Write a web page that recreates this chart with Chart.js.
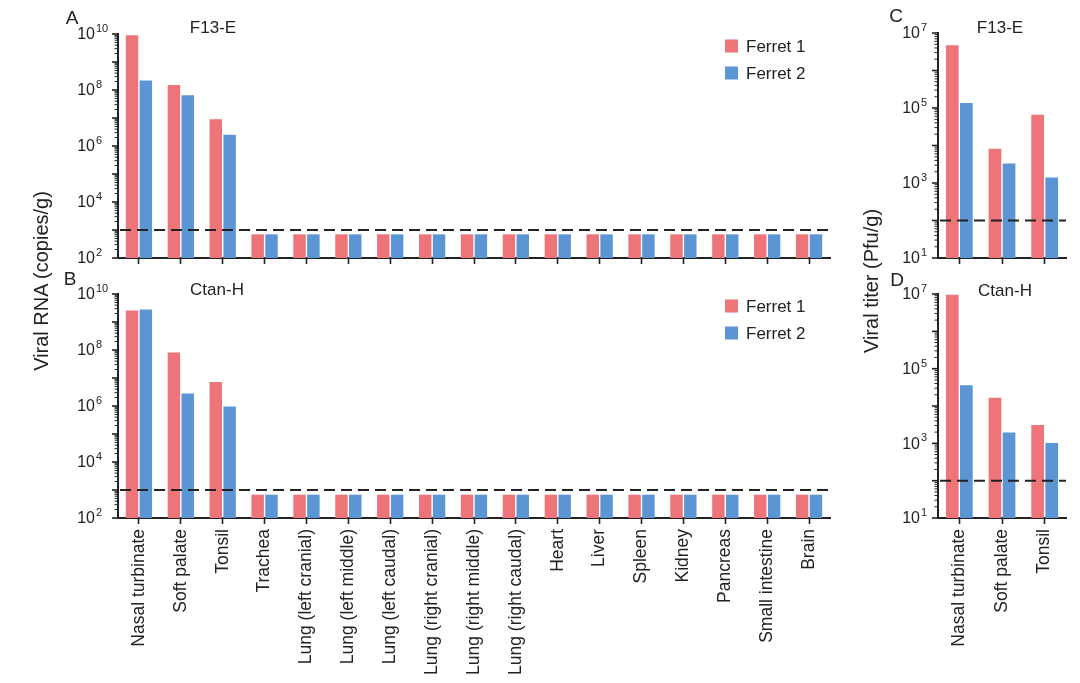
<!DOCTYPE html>
<html>
<head>
<meta charset="utf-8">
<script src="https://cdn.jsdelivr.net/npm/chart.js@4.4.1/dist/chart.umd.min.js"></script>
<style>
  body { margin: 0; background: #fff; }
  #wrap { position: relative; width: 1080px; height: 683px; overflow: hidden; font-family: "Liberation Sans", Arial, sans-serif; color: #222; }
  canvas { position: absolute; }
  .txt { position: absolute; transform: translate(-50%, -50%); white-space: nowrap; }
  .rot { position: absolute; transform: translate(-50%, -50%) rotate(-90deg); white-space: nowrap; font-size: 20px; }
</style>
</head>
<body>
<div id="wrap">
  <canvas id="chartA" width="850" height="270" style="left:0;top:0"></canvas>
  <canvas id="chartB" width="850" height="423" style="left:0;top:260px"></canvas>
  <canvas id="chartC" width="230" height="270" style="left:850px;top:0"></canvas>
  <canvas id="chartD" width="230" height="423" style="left:850px;top:260px"></canvas>

  <div class="txt" style="left:72px;top:18px;font-size:19px">A</div>
  <div class="txt" style="left:70px;top:279px;font-size:19px">B</div>
  <div class="txt" style="left:896px;top:16px;font-size:19px">C</div>
  <div class="txt" style="left:897px;top:280px;font-size:19px">D</div>

  <div class="txt" style="left:213px;top:28px;font-size:17px">F13-E</div>
  <div class="txt" style="left:217px;top:290px;font-size:17px">Ctan-H</div>
  <div class="txt" style="left:1000px;top:28px;font-size:17px">F13-E</div>
  <div class="txt" style="left:1005px;top:291px;font-size:17px">Ctan-H</div>

  <div class="rot" style="left:41px;top:281px">Viral RNA (copies/g)</div>
  <div class="rot" style="left:871px;top:281px">Viral titer (Pfu/g)</div>
</div>

<script>
// categories
var organs = ["Nasal turbinate", "Soft palate", "Tonsil", "Trachea",
  "Lung (left cranial)", "Lung (left middle)", "Lung (left caudal)",
  "Lung (right cranial)", "Lung (right middle)", "Lung (right caudal)",
  "Heart", "Liver", "Spleen", "Kidney", "Pancreas", "Small intestine", "Brain"];
var upperTract = ["Nasal turbinate", "Soft palate", "Tonsil"];
var ferrets = ["Ferret 1", "Ferret 2"];

// viral RNA, copies/g
var rnaF13Ferret1 = [9e9, 1.5e8, 9e6, 700, 700, 700, 700, 700, 700, 700, 700, 700, 700, 700, 700, 700, 700];
var rnaF13Ferret2 = [2.2e8, 6.5e7, 2.5e6, 700, 700, 700, 700, 700, 700, 700, 700, 700, 700, 700, 700, 700, 700];
var rnaCtanFerret1 = [2.6e9, 8.2e7, 7.2e6, 680, 680, 680, 680, 680, 680, 680, 680, 680, 680, 680, 680, 680, 680];
var rnaCtanFerret2 = [2.8e9, 2.8e6, 9.5e5, 680, 680, 680, 680, 680, 680, 680, 680, 680, 680, 680, 680, 680, 680];

// viral titer, Pfu/g
var titerF13Ferret1 = [4.7e6, 8.2e3, 6.6e4];
var titerF13Ferret2 = [1.35e5, 3.3e3, 1.4e3];
var titerCtanFerret1 = [9.5e6, 1.67e4, 3.1e3];
var titerCtanFerret2 = [3.6e4, 1.96e3, 1.02e3];

// detection limits and axis ranges
var rnaLimit = 1000;
var titerLimit = 100;
var rnaRange = [1e2, 1e10];
var titerRange = [1e1, 1e7];

var red = "#ED7479";
var blue = "#5B95D3";
var ink = "#222";
var fontFamily = '"Liberation Sans", Arial, sans-serif';

Chart.defaults.font.family = fontFamily;
Chart.defaults.color = ink;

// dashed limit line, log ticks with superscript labels, legend
var decor = {
  id: 'decor',
  afterDatasetsDraw: function(chart, args, opts) {
    var ctx = chart.ctx, a = chart.chartArea, y = chart.scales.y;
    ctx.save();
    var ly = y.getPixelForValue(opts.limit);
    ctx.strokeStyle = ink;
    ctx.lineWidth = 2;
    ctx.setLineDash([11, 6]);
    ctx.beginPath();
    ctx.moveTo(a.left + 2, ly);
    ctx.lineTo(a.right, ly);
    ctx.stroke();
    ctx.setLineDash([]);

    var minExp = Math.round(Math.log10(y.min));
    y.ticks.forEach(function(t) {
      var e = Math.log10(t.value);
      var major = Math.abs(e - Math.round(e)) < 1e-6;
      var p = y.getPixelForValue(t.value);
      ctx.lineWidth = major ? 1.6 : 1;
      ctx.beginPath();
      ctx.moveTo(a.left - (major ? 6 : 3.5), p);
      ctx.lineTo(a.left, p);
      ctx.stroke();
      if (major && (Math.round(e) - minExp) % 2 === 0) {
        var x = a.left - opts.gap;
        ctx.fillStyle = ink;
        ctx.textBaseline = 'middle';
        ctx.textAlign = 'right';
        ctx.font = '16px ' + fontFamily;
        ctx.fillText('10', x, p + 1);
        ctx.textAlign = 'left';
        ctx.font = '11px ' + fontFamily;
        ctx.fillText(String(Math.round(e)), x + 1, p - 5);
      }
    });

    if (opts.legend) {
      chart.data.datasets.forEach(function(ds, i) {
        var cy = a.top + 12 + i * 27;
        var bx = a.right - 105;
        ctx.fillStyle = ds.backgroundColor;
        ctx.fillRect(bx, cy - 6.5, 13, 13);
        ctx.fillStyle = ink;
        ctx.font = '17px ' + fontFamily;
        ctx.textAlign = 'left';
        ctx.textBaseline = 'middle';
        ctx.fillText(ds.label, bx + 21, cy + 1);
      });
    }
    ctx.restore();
  }
};

function logTicks(scale) {
  var ticks = [];
  var lo = Math.round(Math.log10(scale.min)), hi = Math.round(Math.log10(scale.max));
  for (var e = lo; e <= hi; e++) {
    for (var m = 1; m <= 9; m++) {
      var v = m * Math.pow(10, e);
      if (v <= scale.max * 1.0001) ticks.push({ value: v });
    }
  }
  scale.ticks = ticks;
}

function makeChart(id, labels, f1, f2, range, limit, opt) {
  var ctx = document.getElementById(id).getContext('2d');
  return new Chart(ctx, {
    type: 'bar',
    data: {
      labels: labels,
      datasets: [
        { label: ferrets[0], data: f1, backgroundColor: red },
        { label: ferrets[1], data: f2, backgroundColor: blue }
      ]
    },
    options: {
      responsive: false,
      animation: false,
      devicePixelRatio: 1,
      datasets: { bar: { categoryPercentage: 0.66, barPercentage: 0.9, borderWidth: 0 } },
      layout: { padding: { top: opt.top, right: opt.right, left: 0, bottom: 0 } },
      plugins: {
        legend: { display: false },
        tooltip: { enabled: false },
        decor: { limit: limit, gap: opt.gap, legend: opt.legend }
      },
      scales: {
        x: {
          type: 'category',
          offset: true,
          border: { display: true, color: ink, width: 2 },
          grid: { display: true, drawOnChartArea: false, offset: false, drawTicks: true,
                  tickLength: 6, tickColor: ink, tickWidth: 1.6 },
          ticks: { display: opt.xLabels, autoSkip: false, minRotation: 90, maxRotation: 90,
                   padding: 5, color: ink, font: { size: 17.5 } },
          afterFit: function(s) { s.height = opt.xHeight; }
        },
        y: {
          type: 'logarithmic',
          min: range[0],
          max: range[1],
          border: { display: true, color: ink, width: 2 },
          grid: { display: false },
          ticks: { display: false, autoSkip: false },
          afterBuildTicks: logTicks,
          afterFit: function(s) { s.width = opt.yWidth; }
        }
      }
    },
    plugins: [decor]
  });
}

var chartA = makeChart('chartA', organs, rnaF13Ferret1, rnaF13Ferret2, rnaRange, rnaLimit,
  { top: 34, right: 20, yWidth: 118, xHeight: 12, xLabels: false, gap: 23, legend: true });
var chartB = makeChart('chartB', organs, rnaCtanFerret1, rnaCtanFerret2, rnaRange, rnaLimit,
  { top: 34, right: 20, yWidth: 118, xHeight: 165, xLabels: true, gap: 23, legend: true });
var chartC = makeChart('chartC', upperTract, titerF13Ferret1, titerF13Ferret2, titerRange, titerLimit,
  { top: 33, right: 14, yWidth: 88, xHeight: 12, xLabels: false, gap: 18, legend: false });
var chartD = makeChart('chartD', upperTract, titerCtanFerret1, titerCtanFerret2, titerRange, titerLimit,
  { top: 34, right: 14, yWidth: 88, xHeight: 165, xLabels: true, gap: 18, legend: false });
</script>
</body>
</html>
